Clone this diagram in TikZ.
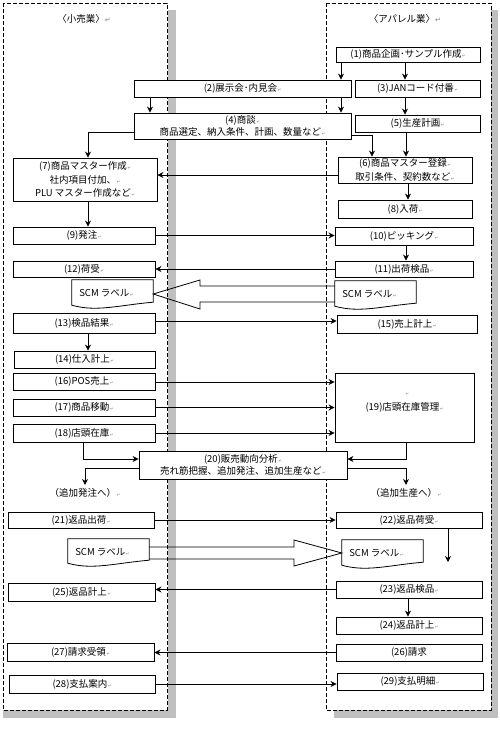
\documentclass[tikz,border=0pt]{standalone}
\usepackage{fontspec}
\setmainfont{Noto Sans CJK JP}
\newfontfamily\symfont{DejaVu Sans}
\usetikzlibrary{arrows.meta,calc}
\newcommand{\mk}{{\symfont\fontsize{4}{4}\selectfont\color{black!55}\,↵}}
\newcommand{\tmk}{{\symfont\fontsize{7}{7}\selectfont\color{black!50}↵}}
\newcommand{\docpath}[1]{\draw[doc] (#1.north west) -- (#1.south west) .. controls ($(#1.south west)+(25,7)$) and ($(#1.south east)+(-35,0)$) .. ($(#1.south east)+(0,-3)$) -- (#1.north east) -- cycle;}
\begin{document}
\begin{tikzpicture}[x=1pt,y=-1pt,
  font=\fontsize{9.5}{13.5}\selectfont,
  box/.style={draw=black, line width=0.9pt, fill=white, inner sep=0pt, align=center},
  conn/.style={line width=0.8pt, -{Stealth[length=6pt,width=6pt]}},
  panel/.style={draw=black, line width=0.9pt, dash pattern=on 4pt off 2pt},
  shadowc/.style={fill=black!25, draw=none},
  hollow/.style={draw=black, line width=0.8pt, line join=miter},
  doc/.style={draw=black, line width=0.8pt},
  scm/.style={inner sep=0pt, align=center}]
\useasboundingbox (0,0) rectangle (500,750);
\fill[white] (0,0) rectangle (500,750);
% shadows
\fill[shadowc] (167.5,10) rectangle (176,718);
\fill[shadowc] (3,710) rectangle (176,718);
\fill[shadowc] (491,10) rectangle (498,718);
\fill[shadowc] (334,710) rectangle (498,718);
% panels
\draw[panel] (3,3) rectangle (167,710);
\draw[panel] (326,3) rectangle (491,710);
% titles
\node (title1) at (84,19) {〈小売業〉\tmk};
\node (title2) at (405,19) {〈アパレル業〉\tmk};
% boxes
\node[box, minimum width=144, minimum height=15] (n1) at (408,54.5) {(1)商品企画･サンプル作成\mk};
\node[box, minimum width=217, minimum height=17] (n2) at (242.5,88.5) {(2)展示会･内見会\mk};
\node[box, minimum width=125, minimum height=17] (n3) at (417.5,88.5) {(3)JANコード付番\mk};
\node[box, minimum width=217, minimum height=26] (n4) at (242.5,126) {(4)商談\mk\\[-2pt]商品選定、納入条件、計画、数量など\mk};
\node[box, minimum width=125, minimum height=17] (n5) at (417.5,123.5) {(5)生産計画\mk};
\node[box, minimum width=134, minimum height=26] (n6) at (405,170) {(6)商品マスター登録\mk\\取引条件、契約数など\mk};
\node[box, minimum width=144, minimum height=43] (n7) at (85,179.5) {(7)商品マスター作成\mk\\社内項目付加、\mk\\PLU マスター作成など\mk};
\node[box, minimum width=134, minimum height=18] (n8) at (405,209) {(8)入荷\mk};
\node[box, minimum width=142, minimum height=17] (n9) at (84,235.5) {(9)発注\mk};
\node[box, minimum width=138, minimum height=18] (n10) at (404,236) {(10)ピッキング\mk};
\node[box, minimum width=138, minimum height=16] (n11) at (404,269) {(11)出荷検品\mk};
\node[box, minimum width=142, minimum height=16] (n12) at (84,269) {(12)荷受\mk};
\node[box, minimum width=142, minimum height=20] (n13) at (84,323) {(13)検品結果\mk};
\node[box, minimum width=140, minimum height=18] (n15) at (407,324) {(15)売上計上\mk};
\node[box, minimum width=141, minimum height=17] (n14) at (84.5,359.5) {(14)仕入計上\mk};
\node[box, minimum width=142, minimum height=17] (n16) at (84,381.5) {(16)POS売上\mk};
\node[box, minimum width=139, minimum height=69] (n19) at (404.5,407.5) {(19)店頭在庫管理\mk};
\node[inner sep=0pt] (m19) at (407,394) {\mk};
\node[box, minimum width=142, minimum height=17] (n17) at (84,407.5) {(17)商品移動\mk};
\node[box, minimum width=142, minimum height=18] (n18) at (84,433) {(18)店頭在庫\mk};
\node[box, minimum width=208, minimum height=28] (n20) at (243,465) {(20)販売動向分析\mk\\[-1pt]売れ筋把握、追加発注、追加生産など\mk};
\node (t1) at (85,493) {（追加発注へ）\mk};
\node (t2) at (406,493) {（追加生産へ）\mk};
\node[box, minimum width=146, minimum height=16] (n21) at (81,520) {(21)返品出荷\mk};
\node[box, minimum width=146, minimum height=16] (n22) at (409,520) {(22)返品荷受\mk};
\node[box, minimum width=146, minimum height=17] (n23) at (409,589.5) {(23)返品検品\mk};
\node[box, minimum width=147, minimum height=18] (n25) at (81.5,592) {(25)返品計上\mk};
\node[box, minimum width=146, minimum height=17] (n24) at (409,625.5) {(24)返品計上\mk};
\node[box, minimum width=146, minimum height=17] (n26) at (409,652.5) {(26)請求};
\node[box, minimum width=147, minimum height=18] (n27) at (80.5,652) {(27)請求受領\mk};
\node[box, minimum width=146, minimum height=18] (n28) at (82,684) {(28)支払案内\mk};
\node[box, minimum width=146, minimum height=17] (n29) at (410,681.5) {(29)支払明細\mk};
% SCM labels
\node[scm, minimum width=81, minimum height=25] (scm1L) at (112.5,292.5) {};
\node[scm, minimum width=81, minimum height=25] (scm1R) at (375.5,293.5) {};
\node[scm, minimum width=81, minimum height=24] (scm2L) at (108.5,551) {};
\node[scm, minimum width=81, minimum height=25] (scm2R) at (382.5,552.5) {};
\docpath{scm1L}
\docpath{scm1R}
\docpath{scm2L}
\docpath{scm2R}
\node[anchor=west] at ($(scm1L.west)+(4,1)$) {SCM ラベル\mk};
\node[anchor=west] at ($(scm1R.west)+(4,1)$) {SCM ラベル\mk};
\node[anchor=west] at ($(scm2L.west)+(4,1)$) {SCM ラベル\mk};
\node[anchor=west] at ($(scm2R.west)+(4,1)$) {SCM ラベル\mk};
% hollow arrows
\draw[hollow] (scm1R.west |- 0,286) -- (200,286) -- (200,280) -- (scm1L.east |- 0,294) -- (200,309) -- (200,302) -- (scm1R.west |- 0,302);
\draw[hollow] (scm2L.east |- 0,547) -- (294,547) -- (294,540) -- (scm2R.west |- 0,553) -- (294,566) -- (294,559) -- (scm2L.east |- 0,559);
% connectors
\draw[conn] (n1.south -| 341,0) -- (n2.north -| 341,0);
\draw[conn] (n1.south -| 405,0) -- (n3.north -| 405,0);
\draw[conn] (n2.south -| 150,0) -- (n4.north -| 150,0);
\draw[conn] (n2.south -| 341,0) -- (n4.north -| 341,0);
\draw[conn] (n3.south -| 405,0) -- (n5.north -| 405,0);
\draw[conn] (n4.east |- 0,135) -| (n6.north -| 372,0);
\draw[conn] (n5.south -| 406,0) -- (n6.north -| 406,0);
\draw[conn] (n4.west |- 0,132) -| (n7.north -| 88,0);
\draw[conn] (n6.west |- 0,175) -- (n7.east |- 0,175);
\draw[conn] (n6.south -| 408,0) -- (n8.north -| 408,0);
\draw[conn] (n7.south -| 88,0) -- (n9.north -| 88,0);
\draw[conn] (n9.east) -- (n10.west |- n9.east);
\draw[conn] (n10.south -| 406,0) -- (n11.north -| 406,0);
\draw[conn] (n11.west) -- (n12.east |- n11.west);
\draw[conn] (n13.east |- 0,321) -- (n15.west |- 0,321);
\draw[conn] (n13.south -| 88,0) -- (n14.north -| 88,0);
\draw[conn] (n16.east |- 0,382) -- (n19.west |- 0,382);
\draw[conn] (n17.east) -- (n19.west |- n17.east);
\draw[conn] (n18.east) -- (n19.west |- n18.east);
\draw[conn] (n18.south -| 83,0) |- (n20.west |- 0,459);
\draw[conn] (n19.south -| 406,0) |- (n20.east |- 0,459);
\draw[conn] (n20.west |- 0,468) -| (t1.north);
\draw[conn] (n20.east |- 0,468) -| (t2.north);
\draw[conn] (n21.east) -- (n22.west |- n21.east);
\coordinate (c22) at (448,562);
\draw[conn] (n22.south -| c22) -- (c22);
\draw[conn] (n23.west) -- (n25.east |- n23.west);
\draw[conn] (n23.south -| 408,0) -- (n24.north -| 408,0);
\draw[conn] (n26.west) -- (n27.east |- n26.west);
\draw[conn] (n28.east) -- (n29.west |- n28.east);
\end{tikzpicture}
\end{document}
